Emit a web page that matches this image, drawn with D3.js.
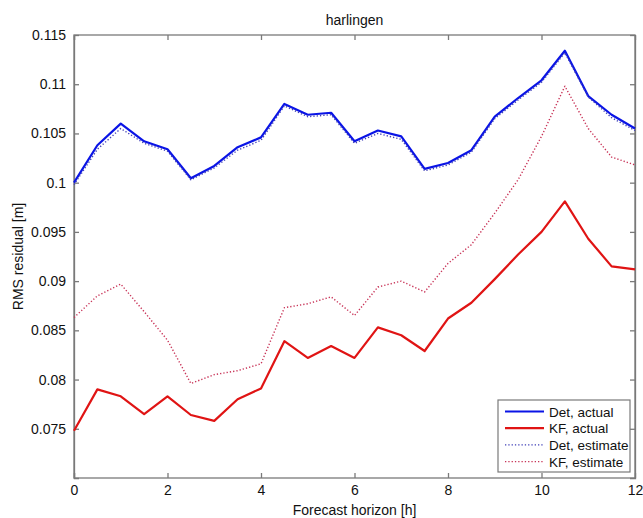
<!DOCTYPE html>
<html>
<head>
<meta charset="utf-8">
<script src="https://cdn.jsdelivr.net/npm/d3@7"></script>
<style>
  body { margin: 0; background: #fff; }
  svg { font-family: "Liberation Sans", Arial, sans-serif; }
</style>
</head>
<body>
<svg width="643" height="518"></svg>
<script>
// Forecast horizon [h], every half hour
var horizon = [0, 0.5, 1, 1.5, 2, 2.5, 3, 3.5, 4, 4.5, 5, 5.5, 6, 6.5, 7, 7.5, 8, 8.5, 9, 9.5, 10, 10.5, 11, 11.5, 12];

var detActual = [0.1000, 0.1038, 0.1060, 0.1042, 0.1034, 0.10045, 0.1017, 0.1036, 0.1046, 0.1080, 0.1069, 0.1071, 0.1042, 0.1053, 0.1047, 0.1014, 0.1020, 0.1033, 0.1067, 0.1086, 0.1104, 0.1134, 0.1088, 0.1069, 0.1055];
var kfActual = [0.0748, 0.0790, 0.0783, 0.0765, 0.0783, 0.0764, 0.0758, 0.0780, 0.0791, 0.0839, 0.0822, 0.0834, 0.0822, 0.0853, 0.0845, 0.0829, 0.0862, 0.0878, 0.0902, 0.0927, 0.0950, 0.0981, 0.0943, 0.0915, 0.0912];
var detEstimate = [0.0998, 0.1034, 0.1055, 0.1040, 0.1032, 0.1003, 0.1015, 0.1033, 0.1043, 0.1078, 0.1067, 0.1069, 0.1040, 0.1050, 0.1044, 0.1012, 0.1018, 0.1031, 0.1065, 0.1084, 0.1102, 0.1132, 0.1087, 0.1066, 0.1053];
var kfEstimate = [0.0863, 0.0885, 0.0897, 0.0869, 0.0840, 0.0796, 0.0805, 0.0809, 0.0816, 0.0873, 0.0877, 0.0884, 0.0865, 0.0894, 0.0900, 0.0889, 0.0918, 0.0937, 0.0969, 0.1003, 0.1047, 0.1098, 0.1055, 0.1026, 0.1018];

var xTicks = [0, 2, 4, 6, 8, 10, 12];
var yTicks = [0.075, 0.08, 0.085, 0.09, 0.095, 0.1, 0.105, 0.11, 0.115];

var seriesNames = ['Det, actual', 'KF, actual', 'Det, estimate', 'KF, estimate'];

var series = [
    {name: seriesNames[0], values: detActual, color: '#0a14e6', width: 2.2, dash: null},
    {name: seriesNames[1], values: kfActual, color: '#e01414', width: 2.2, dash: null},
    {name: seriesNames[2], values: detEstimate, color: '#4040b8', width: 1.4, dash: '1.3,2'},
    {name: seriesNames[3], values: kfEstimate, color: '#c83458', width: 1.4, dash: '1.3,2'}
];

var fontSize = '14px';

var svg = d3.select('svg');
var margin = {l: 74, r: 8, t: 35, b: 40};
var width = 643 - margin.l - margin.r;
var height = 518 - margin.t - margin.b;

var xScale = d3.scaleLinear().domain([0, 12]).range([0, width]);
var yScale = d3.scaleLinear().domain([0.07, 0.115]).range([height, 0]);

var chartG = svg.append('g')
    .attr('transform', 'translate(' + [margin.l, margin.t] + ')');

var axisColor = '#7a7a7a';

// axes with inward ticks on all four sides (matlab box)
var xAxisG = chartG.append('g')
    .attr('transform', 'translate(' + [0, height] + ')')
    .call(d3.axisBottom(xScale).tickValues(xTicks).tickSize(-5).tickPadding(7).tickFormat(d3.format('d')));
var yAxisG = chartG.append('g')
    .call(d3.axisLeft(yScale).tickValues(yTicks).tickSize(-5).tickPadding(8).tickFormat(function(d) { return d3.format('')(+d.toFixed(3)); }));
var xTopG = chartG.append('g')
    .call(d3.axisTop(xScale).tickValues(xTicks).tickSize(-5).tickFormat(''));
var yRightG = chartG.append('g')
    .attr('transform', 'translate(' + [width, 0] + ')')
    .call(d3.axisRight(yScale).tickValues(yTicks).tickSize(-5).tickFormat(''));

[xAxisG, yAxisG, xTopG, yRightG].forEach(function(g) {
    g.selectAll('path').attr('stroke', axisColor).attr('stroke-width', 1.3);
    g.selectAll('line').attr('stroke', axisColor).attr('stroke-width', 1.3);
    g.selectAll('text').attr('fill', '#111').style('font-size', fontSize).style('font-family', '"Liberation Sans", Arial, sans-serif');
});
// remove the outer tick stubs of the domain paths
chartG.selectAll('.domain').each(function() {
    var sel = d3.select(this);
    sel.attr('d', sel.attr('d').replace(/V-?5|H-?5/g, ''));
});
chartG.append('rect')
    .attr('width', width).attr('height', height)
    .attr('fill', 'none').attr('stroke', axisColor).attr('stroke-width', 1.3);

var line = d3.line()
    .x(function(d, i) { return xScale(horizon[i]); })
    .y(function(d) { return yScale(d); });

series.forEach(function(s) {
    chartG.append('path')
        .datum(s.values)
        .attr('d', line)
        .attr('fill', 'none')
        .attr('stroke', s.color)
        .attr('stroke-width', s.width)
        .attr('stroke-dasharray', s.dash)
        .attr('stroke-linejoin', 'round');
});

// title and labels
svg.append('text')
    .attr('x', margin.l + width / 2).attr('y', 25)
    .attr('text-anchor', 'middle')
    .style('font-size', fontSize).attr('fill', '#111')
    .text('harlingen');
svg.append('text')
    .attr('x', margin.l + width / 2).attr('y', 515)
    .attr('text-anchor', 'middle')
    .style('font-size', fontSize).attr('fill', '#111')
    .text('Forecast horizon [h]');
svg.append('text')
    .attr('transform', 'translate(23,' + (margin.t + height / 2) + ') rotate(-90)')
    .attr('text-anchor', 'middle')
    .style('font-size', fontSize).attr('fill', '#111')
    .text('RMS residual [m]');

// legend
var legendG = svg.append('g').attr('transform', 'translate(498,400)');
legendG.append('rect')
    .attr('width', 132).attr('height', 72)
    .attr('fill', '#fff').attr('stroke', axisColor).attr('stroke-width', 1.2);
series.forEach(function(s, i) {
    var y = 11.5 + i * 16.7;
    legendG.append('line')
        .attr('x1', 7).attr('x2', 46).attr('y1', y).attr('y2', y)
        .attr('stroke', s.color)
        .attr('stroke-width', s.dash ? 1.2 : 2.2)
        .attr('stroke-dasharray', s.dash);
    legendG.append('text')
        .attr('x', 51).attr('y', y + 5)
        .style('font-size', '13.5px').attr('fill', '#111')
        .text(s.name);
});
</script>
</body>
</html>
